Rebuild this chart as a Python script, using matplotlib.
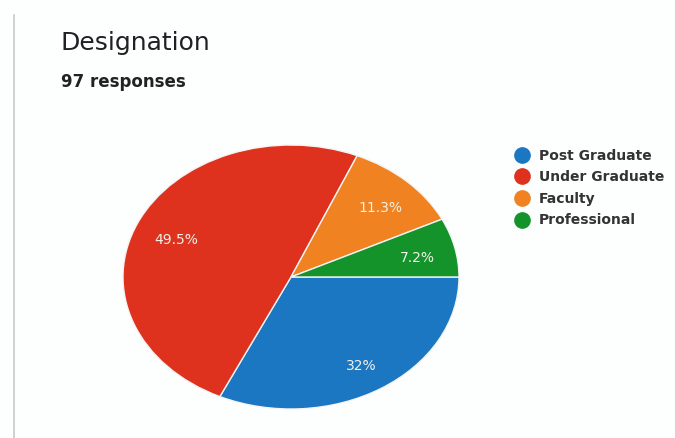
import matplotlib as mpl
mpl.use('Agg')
import matplotlib.pyplot as plt
from matplotlib.lines import Line2D

categorias = ["Post Graduate", "Under Graduate", "Faculty", "Professional"]
respostas = [31, 48, 11, 7]
cores = ["#1b77c1", "#de321e", "#f08221", "#14932b"]
titulo = "Designation"
subtitulo = "97 responses"


def formata_pct(p):
    return "{:.1f}".format(p).rstrip("0").rstrip(".") + "%"


fig = plt.figure(figsize=(6.75, 4.38), dpi=100)
fig.patch.set_facecolor("#fdfefe")

# linha cinza da borda do cartao
fig.add_artist(Line2D([14 / 675, 14 / 675], [0, 1 - 15 / 438], color="#c8c8c8", lw=1.2))

fig.text(61 / 675, 1 - 43 / 438, titulo, fontsize=18, color="#202124",
         va="center", ha="left", family="DejaVu Sans")
fig.text(61 / 675, 1 - 82 / 438, subtitulo, fontsize=12, color="#222222",
         va="center", ha="left", family="DejaVu Sans", fontweight="bold")

ax = fig.add_axes([123 / 675, (438 - 409) / 438, 336 / 675, 264 / 438])
wedges, textos, pcts = ax.pie(respostas, colors=cores, startangle=0, counterclock=False,
                              autopct=formata_pct, pctdistance=0.76,
                              wedgeprops=dict(edgecolor="#f4f4f4", linewidth=1),
                              textprops=dict(color="#f2f2e8", fontsize=10, family="DejaVu Sans"))
# rotulos do google ficam um pouco mais baixos
for t in pcts:
    x, y = t.get_position()
    t.set_position((x + 0.01, y - 0.03))
ax.set_aspect("auto")
ax.set_xlim(-1, 1)
ax.set_ylim(-1, 1)
ax.axis("off")

handles = [Line2D([], [], marker="o", ls="", markersize=11, markerfacecolor=c,
                  markeredgecolor=c) for c in cores]
fig.legend(handles, categorias, loc="upper left", bbox_to_anchor=(500 / 675, 1 - 136 / 438),
           frameon=False, handletextpad=0.5, labelspacing=0.55, handlelength=1.4,
           prop=dict(family="DejaVu Sans", size=10, weight="bold"), labelcolor="#333333")

plt.savefig("out.png", dpi=100, facecolor=fig.get_facecolor())
